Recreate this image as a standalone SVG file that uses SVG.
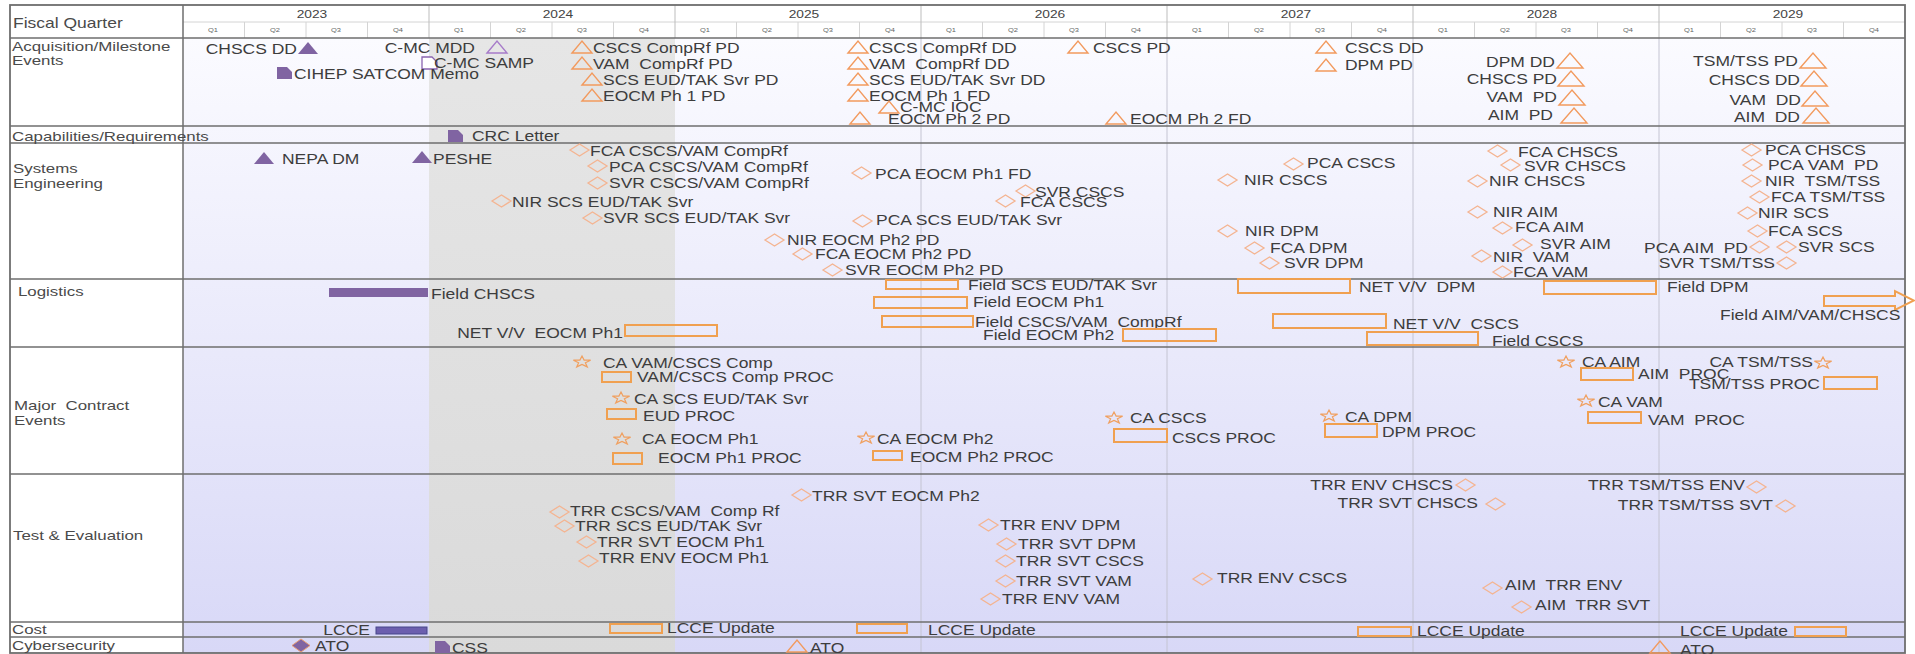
<svg xmlns="http://www.w3.org/2000/svg" xmlns:xlink="http://www.w3.org/1999/xlink" width="1915" height="654" viewBox="0 0 1915 654" xml:space="preserve">
<style>
text{font-family:"Liberation Sans",Arial,sans-serif;fill:#3d3d3d;font-size:14px;white-space:pre;transform-box:fill-box;transform-origin:0 0;transform:scaleX(1.25)}
text.e{text-anchor:end;transform-origin:100% 0}
text.c{text-anchor:middle;transform-origin:50% 0}
text.lab{font-size:13.5px;fill:#4a4a4a}
text.yr{font-size:11px;fill:#444}
text.q{font-size:6px;fill:#666}
.tri{fill:none;stroke:#f29a5e;stroke-width:1.4}
.ptri{fill:#8064a2}
.ltri{fill:none;stroke:#a77bc9;stroke-width:1.4}
.dia{fill:none;stroke:#f4b491;stroke-width:1.3}
.star{fill:none;stroke:#f0a060;stroke-width:1.2}
.box{fill:none;stroke:#f0a050;stroke-width:2}
.pdoc{fill:#8064a2}
.odoc{fill:#fff;stroke:#8a64b0;stroke-width:1.3}
.row{stroke:#6e6e6e;stroke-width:1.5}
.qline{stroke:#d4d4d4;stroke-width:1}
.yline{stroke:#c4c4d2;stroke-width:1}
</style>
<defs>
<linearGradient id="bg" x1="0" y1="0" x2="0" y2="1"><stop offset="0" stop-color="#fbfbff"/><stop offset="1" stop-color="#d8d8f7"/></linearGradient>
<linearGradient id="gbg" x1="0" y1="0" x2="0" y2="1"><stop offset="0" stop-color="#e6e6e6"/><stop offset="1" stop-color="#dadada"/></linearGradient>
<path id="tri" d="M0,12 L10,0 L20,12 Z"/>
<path id="triL" d="M0,15 L13,0 L26,15 Z"/>
<path id="dia" d="M0,6 L9.5,0 L19,6 L9.5,12 Z"/>
<path id="star" d="M9,0 L11.1,4.1 L17.6,4.2 L12.4,6.7 L14.3,10.9 L9,8.4 L3.7,10.9 L5.6,6.7 L0.4,4.2 L6.9,4.1 Z"/>
<path id="doc" d="M0,0 H10 L15,5 V12 H0 Z"/>
</defs>

<g id="background">
<rect x="0" y="0" width="1915" height="654" fill="#ffffff"/>
<rect x="183" y="38" width="1722" height="615" fill="url(#bg)"/>
<rect x="429" y="38" width="246" height="615" fill="url(#gbg)"/>
<line class="yline" x1="921" y1="38" x2="921" y2="653"/>
<line class="yline" x1="1167" y1="38" x2="1167" y2="653"/>
<line class="yline" x1="1413" y1="38" x2="1413" y2="653"/>
<line class="yline" x1="1659" y1="38" x2="1659" y2="653"/>
</g>

<g id="header">
<line class="qline" x1="183" y1="22" x2="1905" y2="22"/>
<g stroke="#d4d4d4" stroke-width="1">
<path d="M244.5,22V38M306,22V38M367.5,22V38M490.5,22V38M552,22V38M613.5,22V38M736.5,22V38M798,22V38M859.5,22V38M982.5,22V38M1044,22V38M1105.5,22V38M1228.5,22V38M1290,22V38M1351.5,22V38M1474.5,22V38M1536,22V38M1597.5,22V38M1720.5,22V38M1782,22V38M1843.5,22V38"/>
</g>
<g stroke="#bdbdbd" stroke-width="1">
<path d="M429,5V38M675,5V38M921,5V38M1167,5V38M1413,5V38M1659,5V38"/>
</g>
<text class="lab" x="13" y="28" style="font-size:14px">Fiscal Quarter</text>
<text class="yr c" x="312" y="18">2023</text>
<text class="yr c" x="558" y="18">2024</text>
<text class="yr c" x="804" y="18">2025</text>
<text class="yr c" x="1050" y="18">2026</text>
<text class="yr c" x="1296" y="18">2027</text>
<text class="yr c" x="1542" y="18">2028</text>
<text class="yr c" x="1788" y="18">2029</text>
<g id="quarters">
<text class="q c" x="213" y="32">Q1</text><text class="q c" x="275" y="32">Q2</text><text class="q c" x="336" y="32">Q3</text><text class="q c" x="398" y="32">Q4</text>
<text class="q c" x="459" y="32">Q1</text><text class="q c" x="521" y="32">Q2</text><text class="q c" x="582" y="32">Q3</text><text class="q c" x="644" y="32">Q4</text>
<text class="q c" x="705" y="32">Q1</text><text class="q c" x="767" y="32">Q2</text><text class="q c" x="828" y="32">Q3</text><text class="q c" x="890" y="32">Q4</text>
<text class="q c" x="951" y="32">Q1</text><text class="q c" x="1013" y="32">Q2</text><text class="q c" x="1074" y="32">Q3</text><text class="q c" x="1136" y="32">Q4</text>
<text class="q c" x="1197" y="32">Q1</text><text class="q c" x="1259" y="32">Q2</text><text class="q c" x="1320" y="32">Q3</text><text class="q c" x="1382" y="32">Q4</text>
<text class="q c" x="1443" y="32">Q1</text><text class="q c" x="1505" y="32">Q2</text><text class="q c" x="1566" y="32">Q3</text><text class="q c" x="1628" y="32">Q4</text>
<text class="q c" x="1689" y="32">Q1</text><text class="q c" x="1751" y="32">Q2</text><text class="q c" x="1812" y="32">Q3</text><text class="q c" x="1874" y="32">Q4</text>
</g>
</g>

<g id="grid">
<line class="row" x1="10" y1="38" x2="1905" y2="38"/>
<line class="row" x1="10" y1="126" x2="1905" y2="126"/>
<line class="row" x1="10" y1="143" x2="1905" y2="143"/>
<line class="row" x1="10" y1="279" x2="1905" y2="279"/>
<line class="row" x1="10" y1="347" x2="1905" y2="347"/>
<line class="row" x1="10" y1="474" x2="1905" y2="474"/>
<line class="row" x1="10" y1="622" x2="1905" y2="622"/>
<line class="row" x1="10" y1="637" x2="1905" y2="637"/>
<line class="row" x1="183" y1="5" x2="183" y2="653"/>
<rect x="10" y="5" width="1895" height="648" fill="none" stroke="#6e6e6e" stroke-width="1.8"/>
</g>

<g id="row-labels">
<text class="lab" x="12" y="51">Acquisition/Milestone</text>
<text class="lab" x="12" y="65">Events</text>
<text class="lab" x="12" y="141">Capabilities/Requirements</text>
<text class="lab" x="13" y="173">Systems</text>
<text class="lab" x="13" y="188">Engineering</text>
<text class="lab" x="18" y="296">Logistics</text>
<text class="lab" x="14" y="410">Major  Contract</text>
<text class="lab" x="14" y="425">Events</text>
<text class="lab" x="13" y="540">Test &amp; Evaluation</text>
<text class="lab" x="12" y="634">Cost</text>
<text class="lab" x="12" y="650">Cybersecurity</text>
</g>

<!-- Acquisition / Milestone -->
<g id="a1"><text class="e" x="297" y="54">CHSCS DD</text><use href="#tri" class="ptri" x="298" y="42"/></g>
<g id="a2"><text class="e" x="475" y="53">C-MC MDD</text><use href="#tri" class="ltri" x="487" y="41"/></g>
<g id="a3"><use href="#doc" class="odoc" x="422" y="57"/><text x="434" y="68">C-MC SAMP</text></g>
<g id="a4"><use href="#doc" class="pdoc" x="277" y="67"/><text x="294" y="79">CIHEP SATCOM Memo</text></g>
<g id="a5"><use href="#tri" class="tri" x="572" y="41"/><text x="593" y="53">CSCS CompRf PD</text></g>
<g id="a6"><use href="#tri" class="tri" x="572" y="57"/><text x="593" y="69">VAM  CompRf PD</text></g>
<g id="a7"><use href="#tri" class="tri" x="582" y="73"/><text x="603" y="85">SCS EUD/TAK Svr PD</text></g>
<g id="a8"><use href="#tri" class="tri" x="582" y="89"/><text x="603" y="101">EOCM Ph 1 PD</text></g>
<g id="a9"><use href="#tri" class="tri" x="848" y="41"/><text x="869" y="53">CSCS CompRf DD</text></g>
<g id="a10"><use href="#tri" class="tri" x="848" y="57"/><text x="869" y="69">VAM  CompRf DD</text></g>
<g id="a11"><use href="#tri" class="tri" x="848" y="73"/><text x="869" y="85">SCS EUD/TAK Svr DD</text></g>
<g id="a12"><use href="#tri" class="tri" x="848" y="89"/><text x="869" y="101">EOCM Ph 1 FD</text></g>
<g id="a13"><use href="#tri" class="tri" x="879" y="101"/><text x="900" y="112">C-MC IOC</text></g>
<g id="a14"><use href="#tri" class="tri" x="850" y="112"/><text x="888" y="124">EOCM Ph 2 PD</text></g>
<g id="a15"><use href="#tri" class="tri" x="1068" y="41"/><text x="1093" y="53">CSCS PD</text></g>
<g id="a16"><use href="#tri" class="tri" x="1106" y="112"/><text x="1130" y="124">EOCM Ph 2 FD</text></g>
<g id="a17"><use href="#tri" class="tri" x="1316" y="41"/><text x="1345" y="53">CSCS DD</text></g>
<g id="a18"><use href="#tri" class="tri" x="1316" y="59"/><text x="1345" y="70">DPM PD</text></g>
<g id="a19"><text class="e" x="1555" y="67">DPM DD</text><use href="#triL" class="tri" x="1557" y="53"/></g>
<g id="a20"><text class="e" x="1557" y="84">CHSCS PD</text><use href="#triL" class="tri" x="1558" y="71"/></g>
<g id="a21"><text class="e" x="1557" y="102">VAM  PD</text><use href="#triL" class="tri" x="1559" y="90"/></g>
<g id="a22"><text class="e" x="1553" y="120">AIM  PD</text><use href="#triL" class="tri" x="1561" y="108"/></g>
<g id="a23"><text class="e" x="1798" y="66">TSM/TSS PD</text><use href="#triL" class="tri" x="1800" y="53"/></g>
<g id="a24"><text class="e" x="1800" y="85">CHSCS DD</text><use href="#triL" class="tri" x="1801" y="71"/></g>
<g id="a25"><text class="e" x="1801" y="105">VAM  DD</text><use href="#triL" class="tri" x="1802" y="91"/></g>
<g id="a26"><text class="e" x="1800" y="122">AIM  DD</text><use href="#triL" class="tri" x="1803" y="108"/></g>

<!-- Capabilities / Requirements -->
<g id="c1"><use href="#doc" class="pdoc" x="448" y="130"/><text x="472" y="141">CRC Letter</text></g>

<!-- Systems Engineering -->
<g id="s1"><use href="#tri" class="ptri" x="254" y="152"/><text x="282" y="164">NEPA DM</text></g>
<g id="s2"><use href="#tri" class="ptri" x="412" y="151"/><text x="433" y="164">PESHE</text></g>
<g id="s3"><use href="#dia" class="dia" x="570" y="144"/><text x="590" y="156">FCA CSCS/VAM CompRf</text></g>
<g id="s4"><use href="#dia" class="dia" x="588" y="160"/><text x="609" y="172">PCA CSCS/VAM CompRf</text></g>
<g id="s5"><use href="#dia" class="dia" x="588" y="177"/><text x="609" y="188">SVR CSCS/VAM CompRf</text></g>
<g id="s6"><use href="#dia" class="dia" x="492" y="195"/><text x="512" y="207">NIR SCS EUD/TAK Svr</text></g>
<g id="s7"><use href="#dia" class="dia" x="583" y="212"/><text x="603" y="223">SVR SCS EUD/TAK Svr</text></g>
<g id="s8"><use href="#dia" class="dia" x="852" y="167"/><text x="875" y="179">PCA EOCM Ph1 FD</text></g>
<g id="s9"><use href="#dia" class="dia" x="853" y="215"/><text x="876" y="225">PCA SCS EUD/TAK Svr</text></g>
<g id="s10"><use href="#dia" class="dia" x="1016" y="185"/><text x="1035" y="197">SVR CSCS</text></g>
<g id="s11"><use href="#dia" class="dia" x="996" y="195"/><text x="1020" y="207">FCA CSCS</text></g>
<g id="s12"><use href="#dia" class="dia" x="765" y="234"/><text x="787" y="245">NIR EOCM Ph2 PD</text></g>
<g id="s13"><use href="#dia" class="dia" x="793" y="248"/><text x="815" y="259">FCA EOCM Ph2 PD</text></g>
<g id="s14"><use href="#dia" class="dia" x="823" y="264"/><text x="845" y="275">SVR EOCM Ph2 PD</text></g>
<g id="s15"><use href="#dia" class="dia" x="1284" y="158"/><text x="1307" y="168">PCA CSCS</text></g>
<g id="s16"><use href="#dia" class="dia" x="1218" y="174"/><text x="1244" y="185">NIR CSCS</text></g>
<g id="s17"><use href="#dia" class="dia" x="1218" y="225"/><text x="1245" y="236">NIR DPM</text></g>
<g id="s18"><use href="#dia" class="dia" x="1245" y="242"/><text x="1270" y="253">FCA DPM</text></g>
<g id="s19"><use href="#dia" class="dia" x="1260" y="257"/><text x="1284" y="268">SVR DPM</text></g>
<g id="s20"><use href="#dia" class="dia" x="1488" y="145"/><text x="1518" y="157">FCA CHSCS</text></g>
<g id="s21"><use href="#dia" class="dia" x="1501" y="159"/><text x="1524" y="171">SVR CHSCS</text></g>
<g id="s22"><use href="#dia" class="dia" x="1468" y="175"/><text x="1489" y="186">NIR CHSCS</text></g>
<g id="s23"><use href="#dia" class="dia" x="1468" y="206"/><text x="1493" y="217">NIR AIM</text></g>
<g id="s24"><use href="#dia" class="dia" x="1493" y="222"/><text x="1515" y="232">FCA AIM</text></g>
<g id="s25"><use href="#dia" class="dia" x="1513" y="239"/><text x="1540" y="249">SVR AIM</text></g>
<g id="s26"><use href="#dia" class="dia" x="1472" y="250"/><text x="1493" y="262">NIR  VAM</text></g>
<g id="s27"><use href="#dia" class="dia" x="1493" y="266"/><text x="1513" y="277">FCA VAM</text></g>
<g id="s28"><use href="#dia" class="dia" x="1742" y="144"/><text x="1765" y="155">PCA CHSCS</text></g>
<g id="s29"><use href="#dia" class="dia" x="1743" y="159"/><text x="1768" y="170">PCA VAM  PD</text></g>
<g id="s30"><use href="#dia" class="dia" x="1742" y="175"/><text x="1765" y="186">NIR  TSM/TSS</text></g>
<g id="s31"><use href="#dia" class="dia" x="1750" y="191"/><text x="1771" y="202">FCA TSM/TSS</text></g>
<g id="s32"><use href="#dia" class="dia" x="1738" y="207"/><text x="1758" y="218">NIR SCS</text></g>
<g id="s33"><use href="#dia" class="dia" x="1748" y="225"/><text x="1768" y="236">FCA SCS</text></g>
<g id="s34"><text class="e" x="1748" y="253">PCA AIM  PD</text><use href="#dia" class="dia" x="1750" y="241"/></g>
<g id="s35"><use href="#dia" class="dia" x="1777" y="241"/><text x="1798" y="252">SVR SCS</text></g>
<g id="s36"><text class="e" x="1775" y="268">SVR TSM/TSS</text><use href="#dia" class="dia" x="1777" y="257"/></g>

<!-- Logistics -->
<g id="l1"><rect x="329" y="288" width="99" height="9" fill="#8064a2"/><text x="431" y="299">Field CHSCS</text></g>
<g id="l2"><text class="e" x="623" y="338">NET V/V  EOCM Ph1</text><rect class="box" x="625" y="325" width="92" height="11"/></g>
<g id="l3"><rect class="box" x="886" y="280" width="72" height="9"/><text x="968" y="290">Field SCS EUD/TAK Svr</text></g>
<g id="l4"><rect class="box" x="874" y="297" width="93" height="11"/><text x="973" y="307">Field EOCM Ph1</text></g>
<g id="l5"><rect class="box" x="882" y="316" width="91" height="11"/><text x="975" y="327">Field CSCS/VAM  CompRf</text></g>
<g id="l6"><text x="983" y="340">Field EOCM Ph2</text><rect class="box" x="1123" y="329" width="93" height="12"/></g>
<g id="l7"><rect class="box" x="1238" y="279" width="112" height="14"/><text x="1359" y="292">NET V/V  DPM</text></g>
<g id="l8"><rect class="box" x="1273" y="314" width="113" height="14"/><text x="1393" y="329">NET V/V  CSCS</text></g>
<g id="l9"><rect class="box" x="1367" y="332" width="111" height="13"/><text x="1492" y="346">Field CSCS</text></g>
<g id="l10"><rect class="box" x="1544" y="281" width="112" height="13"/><text x="1667" y="292">Field DPM</text></g>
<g id="l11"><path class="box" d="M1824,296 H1895 V291 L1914,300.5 L1895,310 V306 H1824 Z"/><text x="1720" y="320">Field AIM/VAM/CHSCS</text></g>

<!-- Major Contract Events -->
<g id="m1"><use href="#star" class="star" x="573" y="356"/><text x="603" y="368">CA VAM/CSCS Comp</text></g>
<g id="m2"><rect class="box" x="602" y="372" width="29" height="10"/><text x="637" y="382">VAM/CSCS Comp PROC</text></g>
<g id="m3"><use href="#star" class="star" x="612" y="392"/><text x="634" y="404">CA SCS EUD/TAK Svr</text></g>
<g id="m4"><rect class="box" x="607" y="409" width="29" height="10"/><text x="643" y="421">EUD PROC</text></g>
<g id="m5"><use href="#star" class="star" x="613" y="433"/><text x="642" y="444">CA EOCM Ph1</text></g>
<g id="m6"><rect class="box" x="613" y="453" width="29" height="11"/><text x="658" y="463">EOCM Ph1 PROC</text></g>
<g id="m7"><use href="#star" class="star" x="857" y="432"/><text x="877" y="444">CA EOCM Ph2</text></g>
<g id="m8"><rect class="box" x="873" y="451" width="29" height="9"/><text x="910" y="462">EOCM Ph2 PROC</text></g>
<g id="m9"><use href="#star" class="star" x="1105" y="412"/><text x="1130" y="423">CA CSCS</text></g>
<g id="m10"><rect class="box" x="1114" y="429" width="53" height="13"/><text x="1172" y="443">CSCS PROC</text></g>
<g id="m11"><use href="#star" class="star" x="1320" y="410"/><text x="1345" y="422">CA DPM</text></g>
<g id="m12"><rect class="box" x="1325" y="424" width="52" height="13"/><text x="1382" y="437">DPM PROC</text></g>
<g id="m13"><use href="#star" class="star" x="1557" y="356"/><text x="1582" y="367">CA AIM</text></g>
<g id="m14"><rect class="box" x="1581" y="368" width="52" height="12"/><text x="1638" y="379">AIM  PROC</text></g>
<g id="m15"><use href="#star" class="star" x="1577" y="395"/><text x="1598" y="407">CA VAM</text></g>
<g id="m16"><rect class="box" x="1588" y="412" width="53" height="11"/><text x="1648" y="425">VAM  PROC</text></g>
<g id="m17"><text class="e" x="1813" y="367">CA TSM/TSS</text><use href="#star" class="star" x="1814" y="357"/></g>
<g id="m18"><text class="e" x="1820" y="389">TSM/TSS PROC</text><rect class="box" x="1824" y="377" width="53" height="12"/></g>

<!-- Test & Evaluation -->
<g id="t1"><use href="#dia" class="dia" x="792" y="489"/><text x="812" y="501">TRR SVT EOCM Ph2</text></g>
<g id="t2"><use href="#dia" class="dia" x="550" y="506"/><text x="570" y="516">TRR CSCS/VAM  Comp Rf</text></g>
<g id="t3"><use href="#dia" class="dia" x="555" y="520"/><text x="575" y="531">TRR SCS EUD/TAK Svr</text></g>
<g id="t4"><use href="#dia" class="dia" x="577" y="536"/><text x="597" y="547">TRR SVT EOCM Ph1</text></g>
<g id="t5"><use href="#dia" class="dia" x="579" y="555"/><text x="599" y="563">TRR ENV EOCM Ph1</text></g>
<g id="t6"><use href="#dia" class="dia" x="979" y="519"/><text x="1000" y="530">TRR ENV DPM</text></g>
<g id="t7"><use href="#dia" class="dia" x="997" y="538"/><text x="1018" y="549">TRR SVT DPM</text></g>
<g id="t8"><use href="#dia" class="dia" x="996" y="555"/><text x="1016" y="566">TRR SVT CSCS</text></g>
<g id="t9"><use href="#dia" class="dia" x="996" y="575"/><text x="1016" y="586">TRR SVT VAM</text></g>
<g id="t10"><use href="#dia" class="dia" x="981" y="593"/><text x="1002" y="604">TRR ENV VAM</text></g>
<g id="t11"><use href="#dia" class="dia" x="1193" y="573"/><text x="1217" y="583">TRR ENV CSCS</text></g>
<g id="t12"><text class="e" x="1453" y="490">TRR ENV CHSCS</text><use href="#dia" class="dia" x="1456" y="479"/></g>
<g id="t13"><text class="e" x="1478" y="508">TRR SVT CHSCS</text><use href="#dia" class="dia" x="1486" y="498"/></g>
<g id="t14"><text class="e" x="1745" y="490">TRR TSM/TSS ENV</text><use href="#dia" class="dia" x="1747" y="481"/></g>
<g id="t15"><text class="e" x="1773" y="510">TRR TSM/TSS SVT</text><use href="#dia" class="dia" x="1776" y="500"/></g>
<g id="t16"><use href="#dia" class="dia" x="1483" y="582"/><text x="1505" y="590">AIM  TRR ENV</text></g>
<g id="t17"><use href="#dia" class="dia" x="1512" y="601"/><text x="1535" y="610">AIM  TRR SVT</text></g>

<!-- Cost -->
<g id="k1"><text class="e" x="370" y="635">LCCE</text><rect x="376" y="627" width="51" height="7" fill="#6c5fae" stroke="#47478a" stroke-width="1"/></g>
<g id="k2"><rect class="box" x="610" y="624" width="52" height="9"/><text x="667" y="633">LCCE Update</text></g>
<g id="k3"><rect class="box" x="857" y="624" width="50" height="9"/><text x="928" y="635">LCCE Update</text></g>
<g id="k4"><rect class="box" x="1358" y="627" width="53" height="9"/><text x="1417" y="636">LCCE Update</text></g>
<g id="k5"><text class="e" x="1788" y="636">LCCE Update</text><rect class="box" x="1795" y="627" width="51" height="9"/></g>

<!-- Cybersecurity -->
<g id="y1"><path d="M292,645.5 L301,639 L310,645.5 L301,652 Z" fill="#8064a2" stroke="#e89a70" stroke-width="1"/><text x="315" y="651">ATO</text></g>
<g id="y2"><use href="#doc" class="pdoc" x="435" y="641"/><text x="452" y="653">CSS</text></g>
<g id="y3"><use href="#tri" class="tri" x="787" y="640"/><text x="810" y="653">ATO</text></g>
<g id="y4"><use href="#tri" class="tri" x="1650" y="641"/><text x="1680" y="655">ATO</text></g>
</svg>
